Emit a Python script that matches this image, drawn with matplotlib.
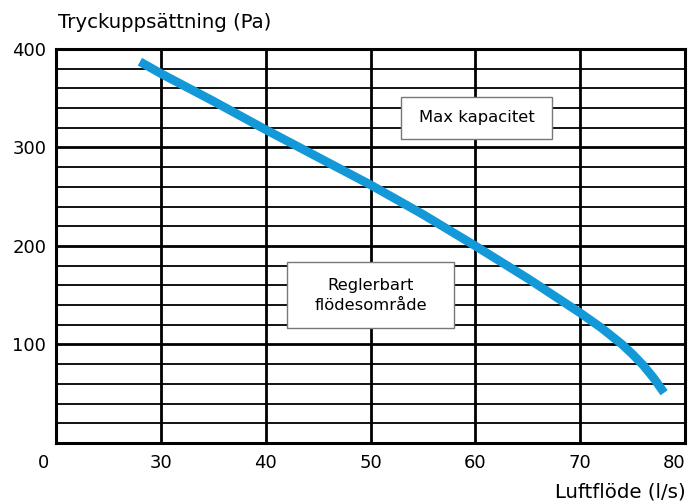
import matplotlib.pyplot as plt
from matplotlib.patches import Rectangle
import numpy as np

# curve
flow = [28, 30, 35, 40, 45, 50, 55, 60, 65, 68, 70, 72, 74, 75, 76, 77, 78]
pressure = [387, 375, 347, 318, 290, 262, 232, 200, 167, 146, 132, 117, 100, 90, 79, 66, 51]

x_ticks = [30, 40, 50, 60, 70, 80]
y_ticks = [100, 200, 300, 400]

plt.rcParams['font.family'] = ['DejaVu Sans']

fig = plt.figure(figsize=(6.89, 5.04), dpi=100)
ax = fig.add_axes([0.0813, 0.121, 0.913, 0.782])

ax.set_xlim(20, 80)
ax.set_ylim(0, 400)

# grid: thick verticals every 10, horizontals every 20 (heavier at 100s)
for xv in x_ticks[:-1]:
    ax.axvline(xv, color='black', lw=2.0, zorder=1)
for yv in np.arange(20, 400, 20):
    lw = 2.0 if yv % 100 == 0 else 1.3
    ax.axhline(yv, color='black', lw=lw, zorder=1)

ax.plot(flow, pressure, color='#1499d8', lw=6.3, solid_capstyle='butt',
        solid_joinstyle='round', zorder=3)

ax.set_xticks(x_ticks)
ax.set_yticks(y_ticks)
ax.tick_params(length=0, labelsize=13)
ax.tick_params(axis='x', pad=8)
ax.tick_params(axis='y', pad=7)
ax.get_xticklabels()[-1].set_horizontalalignment('right')
ax.get_xticklabels()[-1].set_x(80.35)
for s in ax.spines.values():
    s.set_linewidth(2.2)
    s.set_color('black')

ax.annotate('0', xy=(20, 0), xytext=(-9, -8), textcoords='offset points',
            ha='center', va='top', fontsize=13)

# label boxes
ax.add_patch(Rectangle((52.95, 308.6), 14.4, 42.7, facecolor='white',
                       edgecolor='#777777', lw=1, zorder=4))
ax.add_patch(Rectangle((42.0, 116.8), 16.0, 67.0, facecolor='white',
                       edgecolor='#777777', lw=1, zorder=4))
ax.text(60.1, 330, 'Max kapacitet', ha='center', va='center', fontsize=11.8,
        zorder=5)
ax.text(50, 150, 'Reglerbart\nflödesområde', ha='center', va='center',
        fontsize=11.8, linespacing=1.4, zorder=5)

fig.text(0.084, 0.956, 'Tryckuppsättning (Pa)', ha='left', va='center', fontsize=14.2)
fig.text(0.996, 0.024, 'Luftflöde (l/s)', ha='right', va='center', fontsize=14.2)

fig.savefig('out.png', dpi=100)
